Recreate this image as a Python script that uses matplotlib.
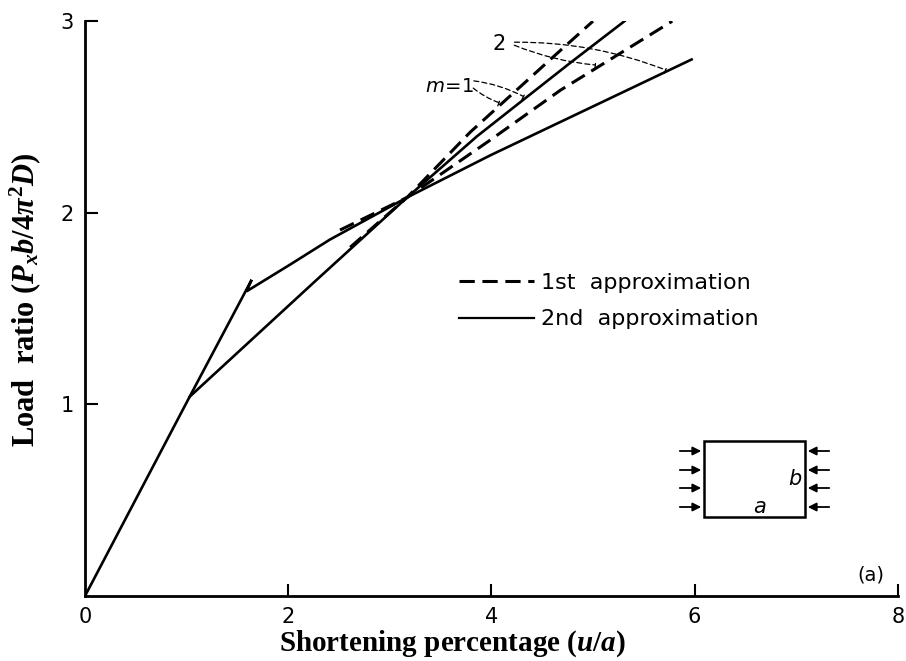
import numpy as np
import matplotlib
matplotlib.use('Agg')
from matplotlib import pyplot as plt
from matplotlib.patches import Rectangle

# curves (x = shortening %, y = load ratio)
m1_2nd_x = [0, 1.03, 2.28, 3.17, 3.86, 4.77, 5.31]
m1_2nd_y = [0, 1.04, 1.65, 2.08, 2.40, 2.78, 3.0]
m2_2nd_x = [1.03, 1.64, 1.59, 2.02, 2.41, 3.17, 3.99, 5.97]
m2_2nd_y = [1.04, 1.65, 1.59, 1.73, 1.86, 2.08, 2.30, 2.80]
m1_1st_x = [2.61, 3.17, 3.79, 4.58, 5.0]
m1_1st_y = [1.82, 2.08, 2.42, 2.80, 3.0]
m2_1st_x = [2.51, 3.17, 3.99, 4.68, 5.78]
m2_1st_y = [1.91, 2.08, 2.38, 2.64, 3.0]

x_ticks = [0, 2, 4, 6, 8]
y_ticks = [1, 2, 3]

plt.rcParams['mathtext.fontset'] = 'custom'
plt.rcParams['mathtext.rm'] = 'Liberation Serif:bold'
plt.rcParams['mathtext.it'] = 'Liberation Serif:italic:bold'
plt.rcParams['mathtext.bf'] = 'Liberation Serif:bold'

fig = plt.figure(figsize=(9.06, 6.61), dpi=100)
ax = fig.add_axes([0.0938, 0.0983, 0.8972, 0.8697])

lw = 1.9
dash = (0, (5, 2.5))
ax.plot(m1_2nd_x, m1_2nd_y, color='k', lw=lw, solid_joinstyle='miter')
ax.plot(m2_2nd_x, m2_2nd_y, color='k', lw=lw, solid_joinstyle='miter')
l1, = ax.plot(m1_1st_x, m1_1st_y, color='k', lw=2.2, linestyle=dash)
ax.plot(m2_1st_x, m2_1st_y, color='k', lw=2.2, linestyle=dash)
l2, = ax.plot([], [], color='k', lw=1.6)

ax.set_xlim(0, 8)
ax.set_ylim(0, 3)
ax.spines['top'].set_visible(False)
ax.spines['right'].set_visible(False)
for s in ['left', 'bottom']:
    ax.spines[s].set_linewidth(2)
ax.set_xticks(x_ticks)
ax.set_yticks(y_ticks)
ax.tick_params(direction='in', length=9, width=1.5, labelsize=15, pad=8)
ax.xaxis.get_major_ticks()[0].tick1line.set_visible(False)

fig.text(453 / 906, 1 - 644 / 661, r'Shortening percentage ($u/a$)',
         family='Liberation Serif', fontweight='bold', fontsize=21,
         ha='center', va='center')
fig.text(25 / 906, 1 - 300 / 661, r'Load  ratio ($P_xb/4\pi^2D$)',
         family='Liberation Serif', fontweight='bold', fontsize=22,
         ha='center', va='center', rotation=90)

# labels with leader lines
lead = dict(arrowstyle='-[, widthB=0.25, lengthB=0', color='k', lw=0.9,
            linestyle=(0, (4, 2.5)))
ax.text(3.59, 2.66, r'$m\!=\!1$', fontsize=14, ha='center', va='center',
        math_fontfamily='dejavusans')
ax.annotate('', xy=(4.34, 2.60), xytext=(3.8, 2.69),
            arrowprops=dict(connectionstyle='arc3,rad=-0.1', **lead))
ax.annotate('', xy=(4.10, 2.57), xytext=(3.8, 2.66),
            arrowprops=dict(connectionstyle='arc3,rad=0.1', **lead))
ax.text(4.08, 2.88, '2', fontsize=15, ha='center', va='center')
ax.annotate('', xy=(5.74, 2.74), xytext=(4.2, 2.89),
            arrowprops=dict(connectionstyle='arc3,rad=-0.1', **lead))
ax.annotate('', xy=(5.05, 2.77), xytext=(4.2, 2.88),
            arrowprops=dict(connectionstyle='arc3,rad=0.08', **lead))

ax.text(7.73, 0.11, '(a)', fontsize=14, ha='center', va='center')

ax.legend([l1, l2], ['1st  approximation', '2nd  approximation'],
          loc='upper left', bbox_to_anchor=(0.435, 0.597), frameon=False,
          fontsize=16, handlelength=3.4, handletextpad=0.3, labelspacing=0.75)

# small plate sketch
ins = fig.add_axes([677 / 906, 1 - 522 / 661, 156 / 906, 86 / 661])
ins.set_xlim(0, 156)
ins.set_ylim(86, 0)
ins.axis('off')
ins.add_patch(Rectangle((27, 5), 101, 76, fill=False, lw=1.8, color='k'))
for yy in [15, 34, 52, 71]:
    ins.annotate('', xy=(27, yy), xytext=(0, yy),
                 arrowprops=dict(arrowstyle='-|>,head_length=0.5,head_width=0.25',
                                 color='k', lw=1.3))
    ins.annotate('', xy=(128, yy), xytext=(155, yy),
                 arrowprops=dict(arrowstyle='-|>,head_length=0.5,head_width=0.25',
                                 color='k', lw=1.3))
ins.text(118, 43, 'b', fontsize=15, style='italic', ha='center', va='center')
ins.text(83, 71, 'a', fontsize=15, style='italic', ha='center', va='center')

plt.savefig('out.png', dpi=100)
